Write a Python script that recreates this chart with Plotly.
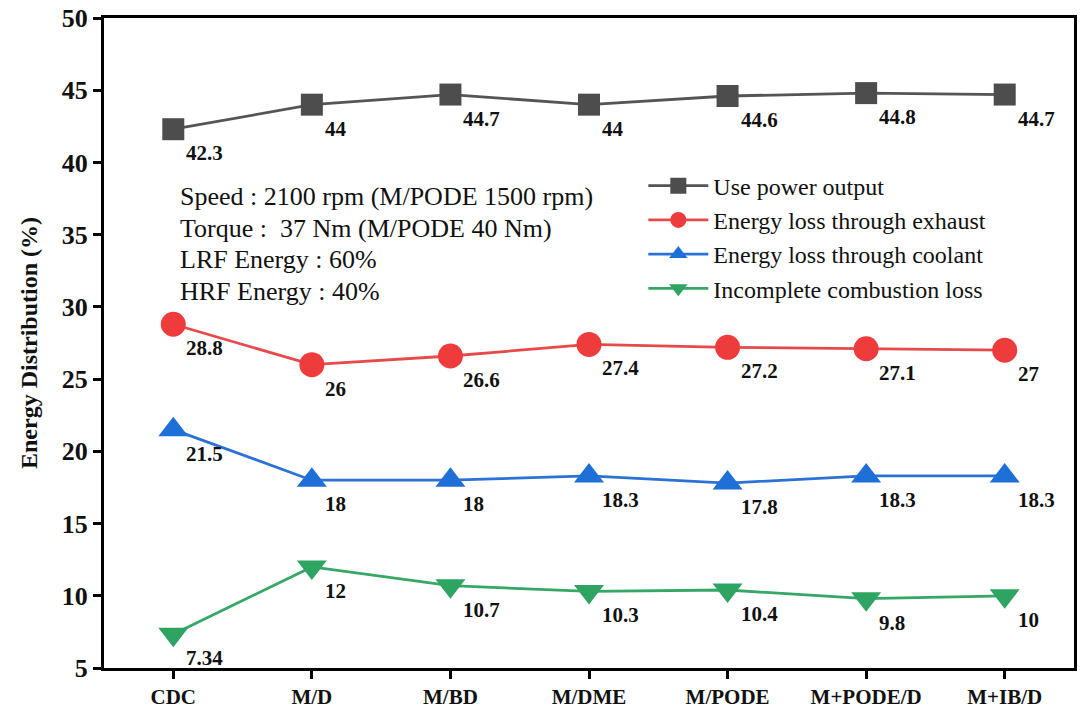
import plotly.graph_objects as go

# Test fuel / combustion modes
modes = ["CDC", "M/D", "M/BD", "M/DME", "M/PODE", "M+PODE/D", "M+IB/D"]

# Energy distribution (%) for each mode
power_output = [42.3, 44, 44.7, 44, 44.6, 44.8, 44.7]
exhaust_loss = [28.8, 26, 26.6, 27.4, 27.2, 27.1, 27]
coolant_loss = [21.5, 18, 18, 18.3, 17.8, 18.3, 18.3]
incomplete_loss = [7.34, 12, 10.7, 10.3, 10.4, 9.8, 10]
labels_incomplete = ["7.34", "12", "10.7", "10.3", "10.4", "9.8", "10"]

y_ticks = [5, 10, 15, 20, 25, 30, 35, 40, 45, 50]

conditions = [
    "Speed : 2100 rpm (M/PODE 1500 rpm)",
    "Torque :  37 Nm (M/PODE 40 Nm)",
    "LRF Energy : 60%",
    "HRF Energy : 40%",
]

FONT = "Liberation Serif"

series = [
    ("Use power output", power_output, None, "#4d4d4d", "#555555", "square", 22),
    ("Energy loss through exhaust", exhaust_loss, None, "#ee3b3b", "#e84a4a", "circle", 25),
    ("Energy loss through coolant", coolant_loss, None, "#1f6fd8", "#2a72d6", "triangle-up", 26),
    ("Incomplete combustion loss", incomplete_loss, labels_incomplete, "#2ea462", "#35a866", "triangle-down", 26),
]

fig = go.Figure()
annotations = []
for name, vals, texts, mcolor, lcolor, symbol, size in series:
    fig.add_trace(go.Scatter(
        x=modes, y=vals, name=name, mode="lines+markers",
        line=dict(color=lcolor, width=2.8),
        marker=dict(symbol=symbol, size=size, color=mcolor, line=dict(width=0)),
    ))
    if texts is None:
        texts = [f"{v:g}" for v in vals]
    for m, v, t in zip(modes, vals, texts):
        annotations.append(dict(
            x=m, y=v, xref="x", yref="y", text=t, showarrow=False,
            xanchor="left", yanchor="middle", xshift=11, yshift=-24,
            font=dict(family=FONT, size=21, color="#111111", weight="bold"),
        ))

# Operating-condition note, one line per annotation for even spacing
for i, line in enumerate(conditions):
    annotations.append(dict(
        xref="paper", yref="paper", x=0.076, y=0.725 - i * 0.0485,
        xanchor="left", yanchor="middle", align="left", showarrow=False,
        text=line, font=dict(family=FONT, size=26, color="#111111"),
    ))

fig.update_layout(
    width=1081, height=714,
    margin=dict(l=104, r=4, t=18, b=46),
    paper_bgcolor="white", plot_bgcolor="white",
    font=dict(family=FONT, color="#111111"),
    showlegend=True,
    legend=dict(
        x=0.556, y=0.776, xanchor="left", yanchor="top",
        bgcolor="rgba(0,0,0,0)", font=dict(family=FONT, size=24, color="#111111"),
        itemwidth=60, tracegroupgap=0,
    ),
    annotations=annotations,
)

fig.update_xaxes(
    type="category", range=[-0.5, 6.5],
    showline=True, linecolor="black", linewidth=3, mirror=True,
    ticks="outside", ticklen=8, tickwidth=3, tickcolor="black",
    tickfont=dict(family=FONT, size=21, color="#111111", weight="bold"),
    showgrid=False, zeroline=False,
)
fig.update_yaxes(
    range=[5, 50], tickvals=y_ticks,
    showline=True, linecolor="black", linewidth=3, mirror=True,
    ticks="outside", ticklen=8, tickwidth=3, tickcolor="black",
    tickfont=dict(family=FONT, size=26, color="#111111", weight="bold"),
    title=dict(text="Energy Distribution (%)", standoff=18,
               font=dict(family=FONT, size=24, color="#111111", weight="bold")),
    showgrid=False, zeroline=False,
)

fig.write_html("out.html")
